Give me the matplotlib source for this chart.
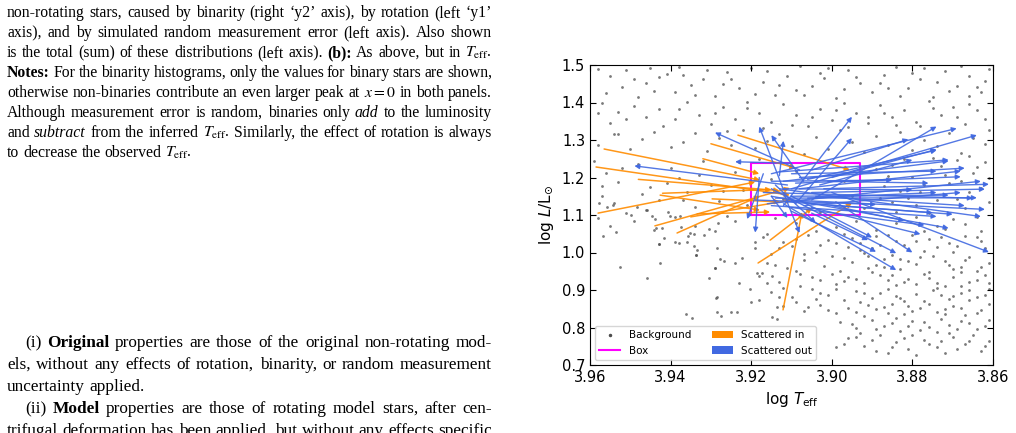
import matplotlib
matplotlib.use('Agg')
import matplotlib.pyplot as plt
from matplotlib.lines import Line2D
from matplotlib.patches import Patch

# ---------------- data (log Teff, log L) ----------------
bg_upper = [
    (3.958,1.490),(3.955,1.470),(3.951,1.488),(3.946,1.452),(3.944,1.431),(3.941,1.476),(3.938,1.495),
    (3.935,1.447),(3.932,1.462),(3.929,1.418),(3.926,1.481),(3.923,1.439),(3.920,1.492),(3.917,1.456),
    (3.914,1.421),(3.911,1.470),(3.908,1.497),(3.905,1.443),(3.902,1.465),(3.899,1.412),(3.896,1.487),
    (3.893,1.451),(3.890,1.429),(3.887,1.474),(3.884,1.495),(3.881,1.438),(3.878,1.462),(3.875,1.414),
    (3.872,1.483),(3.869,1.445),(3.866,1.472),(3.863,1.428),(3.861,1.490),
    (3.956,1.425),(3.952,1.441),(3.948,1.415),(3.943,1.468),(3.939,1.428),(3.934,1.419),(3.931,1.487),
    (3.927,1.449),(3.919,1.423),(3.913,1.447),(3.907,1.421),(3.901,1.493),(3.897,1.437),(3.888,1.452),
    (3.883,1.417),(3.877,1.491),(3.871,1.431),(3.866,1.418),(3.862,1.457),
    (3.949,1.462),(3.945,1.492),(3.937,1.473),(3.925,1.462),(3.916,1.484),(3.909,1.433),(3.903,1.478),
    (3.894,1.468),(3.886,1.438),(3.880,1.478),(3.874,1.454),(3.868,1.497),(3.864,1.441),
    (3.957,1.398),(3.953,1.376),(3.949,1.392),(3.946,1.361),(3.943,1.383),(3.939,1.355),(3.936,1.401),
    (3.933,1.368),(3.930,1.342),(3.927,1.389),(3.924,1.357),(3.921,1.402),(3.918,1.373),(3.915,1.347),
    (3.912,1.395),(3.909,1.366),(3.906,1.338),(3.903,1.384),(3.900,1.352),(3.897,1.399),(3.894,1.371),
    (3.891,1.346),(3.888,1.393),(3.885,1.362),(3.882,1.381),(3.879,1.349),(3.876,1.404),(3.873,1.367),
    (3.870,1.388),(3.867,1.343),(3.864,1.379),(3.862,1.356),
    (3.955,1.345),(3.942,1.337),(3.929,1.371),(3.917,1.331),(3.905,1.362),(3.896,1.334),(3.887,1.371),
    (3.878,1.336),(3.869,1.362),(3.958,1.371),(3.953,1.315),
    (3.951,1.356),(3.938,1.382),(3.926,1.323),(3.921,1.385),(3.910,1.341),(3.899,1.381),(3.891,1.362),
    (3.884,1.339),(3.875,1.385),(3.866,1.395),(3.861,1.327),
    (3.958,1.288),(3.954,1.315),(3.950,1.275),(3.947,1.302),(3.944,1.322),(3.940,1.281),(3.937,1.296),
    (3.934,1.318),(3.931,1.270),(3.928,1.305),(3.925,1.288),(3.922,1.326),(3.919,1.279),(3.916,1.298),
    (3.913,1.316),(3.910,1.285),(3.907,1.262),(3.904,1.309),(3.901,1.277),(3.898,1.326),(3.895,1.294),
    (3.892,1.268),(3.889,1.312),(3.886,1.287),(3.883,1.321),(3.880,1.273),(3.877,1.300),(3.874,1.283),
    (3.871,1.318),(3.868,1.266),(3.865,1.305),(3.862,1.289),
]
bg_middle = [
    (3.959,1.245),(3.956,1.212),(3.953,1.188),(3.957,1.152),(3.954,1.131),(3.951,1.105),(3.948,1.235),
    (3.945,1.176),(3.943,1.141),(3.946,1.112),(3.940,1.225),(3.938,1.199),(3.936,1.162),(3.934,1.120),
    (3.932,1.243),(3.930,1.181),(3.928,1.137),(3.926,1.098),(3.924,1.215),(3.922,1.168),(3.921,1.128),
    (3.918,1.250),(3.915,1.195),(3.912,1.142),(3.909,1.218),(3.906,1.172),(3.903,1.109),(3.900,1.238),
    (3.897,1.190),(3.895,1.150),(3.892,1.118),(3.889,1.222),(3.887,1.178),(3.885,1.136),(3.882,1.249),
    (3.880,1.201),(3.878,1.162),(3.876,1.104),(3.873,1.231),(3.871,1.186),(3.869,1.143),(3.867,1.118),
    (3.865,1.213),(3.863,1.172),(3.861,1.135),(3.862,1.241),(3.866,1.257),(3.870,1.088),(3.874,1.072),
    (3.879,1.094),(3.884,1.078),(3.889,1.061),(3.894,1.085),(3.899,1.069),(3.904,1.058),(3.909,1.079),
    (3.914,1.091),(3.919,1.066),(3.924,1.083),(3.929,1.057),(3.934,1.072),(3.939,1.094),(3.944,1.061),
    (3.949,1.083),(3.955,1.071),(3.958,1.093),
    (3.886,1.205),(3.883,1.163),(3.879,1.128),(3.875,1.252),(3.872,1.207),(3.868,1.192),(3.864,1.095),
    (3.861,1.198),(3.877,1.181),(3.884,1.108),(3.888,1.146),(3.891,1.232),(3.874,1.139),(3.866,1.162),
    (3.957,1.178),(3.952,1.225),(3.947,1.156),(3.941,1.186),(3.937,1.141),(3.933,1.207),(3.927,1.163),
    (3.923,1.241),(3.872,1.064),(3.867,1.075),(3.863,1.058),(3.877,1.057),(3.881,1.145),(3.864,1.228),
    (3.885,1.233),(3.869,1.247),
]
bg_lower_left = [
    (3.9577,1.131),(3.9559,1.120),(3.9544,1.128),(3.9567,1.044),(3.9535,1.054),(3.9526,0.962),
    (3.9499,1.101),(3.9484,1.120),(3.9459,1.112),(3.9458,0.933),(3.9447,1.096),(3.9439,1.089),
    (3.9436,1.066),(3.9429,1.024),(3.9426,0.971),(3.9422,1.065),(3.9416,1.038),(3.9406,1.109),
    (3.9401,1.097),(3.9388,1.029),(3.9378,1.026),(3.9373,1.069),(3.9377,1.097),(3.9360,1.027),
    (3.9358,1.044),(3.9352,1.051),(3.9343,1.049),(3.9342,1.017),(3.9335,1.008),(3.9337,0.993),
    (3.9317,1.048),(3.9305,1.064),(3.9305,0.933),(3.9287,0.880),(3.9291,0.960),(3.9284,1.011),
    (3.9277,0.982),(3.9268,0.978),(3.9282,1.080),
    (3.9362,0.836),(3.9346,0.825),(3.9286,0.881),(3.9284,0.842),(3.9275,0.832),(3.9251,0.842),
    (3.9235,0.842),(3.9230,0.918),(3.9203,0.903),(3.9201,0.867),(3.9180,0.873),(3.9186,0.945),
    (3.9174,0.945),(3.9160,0.918),(3.9148,0.827),(3.9135,0.823),(3.9137,0.856),(3.9148,0.937),
    (3.9240,0.973),(3.9224,0.985),(3.9290,0.958),(3.9338,0.993),(3.9430,1.023),
]
bg_lower_right = [
    (3.917,1.041),(3.912,1.028),(3.906,1.046),(3.901,1.033),(3.897,1.049),(3.893,1.026),(3.889,1.044),
    (3.884,1.031),(3.880,1.048),(3.876,1.036),(3.871,1.025),(3.867,1.043),(3.863,1.030),
    (3.919,1.027),(3.916,1.049),(3.913,1.011),(3.909,1.037),(3.907,0.996),(3.903,1.019),(3.914,0.967),
    (3.909,0.951),(3.905,0.936),(3.912,0.905),(3.908,0.912),(3.904,0.876),(3.909,0.868),(3.913,0.881),
    (3.919,1.012),(3.915,0.995),(3.910,1.018),(3.904,1.002),(3.900,0.991),(3.896,1.015),(3.892,0.998),
    (3.888,1.021),(3.885,0.993),(3.881,1.009),(3.878,0.987),(3.874,1.016),(3.870,1.001),(3.866,0.989),
    (3.862,1.013),(3.893,1.006),(3.877,1.004),
    (3.899,1.025),(3.895,1.038),(3.890,1.012),(3.886,1.047),(3.882,1.019),(3.879,1.032),(3.873,1.042),
    (3.869,1.018),(3.864,1.041),(3.897,0.985),(3.891,0.992),(3.887,0.961),(3.883,0.984),(3.875,0.992),
    (3.871,0.968),(3.867,0.979),(3.863,0.962),
    (3.916,0.972),(3.911,0.958),(3.907,0.979),(3.902,0.963),(3.898,0.951),(3.895,0.975),(3.891,0.960),
    (3.887,0.982),(3.883,0.955),(3.879,0.969),(3.876,0.947),(3.872,0.978),(3.868,0.962),(3.864,0.951),
    (3.861,0.973),(3.889,0.968),(3.881,0.977),(3.870,0.955),
    (3.918,0.938),(3.913,0.921),(3.908,0.943),(3.903,0.927),(3.899,0.915),(3.896,0.936),(3.892,0.919),
    (3.888,0.941),(3.884,0.913),(3.881,0.930),(3.877,0.944),(3.874,0.918),(3.870,0.935),(3.866,0.922),
    (3.862,0.940),(3.886,0.926),(3.879,0.917),(3.868,0.911),(3.894,0.929),
    (3.900,0.943),(3.897,0.925),(3.890,0.948),(3.885,0.939),(3.882,0.921),(3.876,0.931),(3.872,0.912),
    (3.868,0.947),(3.864,0.928),(3.861,0.918),
    (3.915,0.894),(3.910,0.881),(3.905,0.902),(3.901,0.886),(3.897,0.874),(3.894,0.897),(3.890,0.880),
    (3.886,0.903),(3.882,0.871),(3.879,0.889),(3.875,0.899),(3.871,0.877),(3.868,0.893),(3.864,0.881),
    (3.861,0.902),(3.884,0.885),(3.873,0.888),(3.892,0.892),(3.866,0.874),
    (3.903,0.892),(3.899,0.903),(3.893,0.869),(3.888,0.893),(3.883,0.879),(3.877,0.872),(3.874,0.906),
    (3.870,0.884),(3.866,0.899),(3.862,0.886),
    (3.912,0.857),(3.907,0.843),(3.903,0.861),(3.899,0.838),(3.896,0.853),(3.892,0.832),(3.889,0.849),
    (3.885,0.862),(3.882,0.836),(3.878,0.852),(3.874,0.841),(3.870,0.858),(3.867,0.833),(3.863,0.847),
    (3.861,0.862),(3.880,0.845),(3.887,0.855),(3.872,0.849),
    (3.906,0.855),(3.901,0.847),(3.894,0.842),(3.891,0.859),(3.886,0.838),(3.881,0.857),(3.876,0.863),
    (3.872,0.836),(3.868,0.851),(3.864,0.839),
    (3.898,0.815),(3.894,0.798),(3.890,0.821),(3.887,0.805),(3.883,0.792),(3.880,0.818),(3.876,0.801),
    (3.873,0.823),(3.869,0.795),(3.866,0.811),(3.862,0.803),(3.885,0.812),(3.871,0.808),(3.878,0.794),
    (3.895,0.809),(3.889,0.796),(3.884,0.825),(3.881,0.803),(3.877,0.814),(3.874,0.789),(3.868,0.817),
    (3.864,0.796),(3.861,0.821),
    (3.896,0.771),(3.892,0.752),(3.888,0.779),(3.884,0.761),(3.881,0.742),(3.877,0.768),(3.874,0.749),
    (3.870,0.775),(3.867,0.756),(3.863,0.738),(3.861,0.764),(3.886,0.733),(3.879,0.726),(3.872,0.731),
    (3.865,0.779),(3.893,0.785),(3.899,0.748),
    (3.897,0.757),(3.890,0.766),(3.885,0.747),(3.882,0.772),(3.876,0.756),(3.873,0.765),(3.869,0.742),
    (3.866,0.763),(3.862,0.751),(3.889,0.738),(3.880,0.781),(3.871,0.786),(3.894,0.776),
]

box_teff = (3.920, 3.893)
box_logl = (1.10, 1.24)

# (logTeff start, logL start, logTeff end, logL end)
scattered_in = [
    (3.9585,1.228,3.9104,1.153),(3.9565,1.276,3.9178,1.193),(3.9580,1.105,3.9190,1.188),
    (3.9439,1.071,3.9104,1.172),(3.9384,1.052,3.9178,1.151),(3.9334,1.103,3.9153,1.108),
    (3.9426,1.153,3.9178,1.113),(3.9297,1.143,3.9129,1.135),(3.9320,1.250,3.9180,1.210),
    (3.9233,1.313,3.8955,1.220),(3.9153,1.033,3.9049,1.119),(3.9183,0.972,3.8950,1.132),
    (3.9121,0.847,3.9074,1.108),(3.9420,1.158,3.9150,1.168),(3.9300,1.290,3.9090,1.225),
    (3.9480,1.195,3.9130,1.165),(3.9350,1.095,3.9100,1.140),
]
scattered_out = [
    (3.911,1.180,3.949,1.231),(3.908,1.220,3.929,1.320),(3.910,1.238,3.924,1.242),(3.912,1.167,3.918,1.336),
    (3.907,1.190,3.915,1.313),(3.917,1.210,3.921,1.089),(3.918,1.200,3.919,1.053),(3.915,1.150,3.911,1.092),
    (3.912,1.160,3.908,1.052),(3.914,1.180,3.904,1.079),(3.912,1.125,3.895,1.362),(3.909,1.130,3.895,1.305),
    (3.905,1.140,3.874,1.336),(3.915,1.210,3.869,1.331),(3.910,1.170,3.864,1.313),(3.905,1.220,3.881,1.302),
    (3.900,1.200,3.874,1.275),(3.912,1.190,3.871,1.244),(3.908,1.170,3.868,1.217),(3.910,1.210,3.874,1.217),
    (3.915,1.190,3.885,1.193),(3.905,1.160,3.862,1.169),(3.910,1.150,3.871,1.153),(3.917,1.160,3.865,1.145),
    (3.912,1.170,3.880,1.167),(3.910,1.140,3.862,1.115),(3.913,1.170,3.863,1.096),(3.905,1.130,3.875,1.106),
    (3.915,1.125,3.874,1.096),(3.910,1.120,3.877,1.073),(3.915,1.150,3.871,1.065),(3.905,1.120,3.878,1.049),
    (3.910,1.150,3.890,1.040),(3.915,1.170,3.884,0.998),(3.900,1.160,3.861,1.001),(3.912,1.130,3.884,0.953),
    (3.910,1.110,3.889,1.002),(3.905,1.105,3.891,1.033),(3.914,1.145,3.864,1.146),(3.908,1.200,3.867,1.225),
    (3.913,1.215,3.871,1.247),(3.906,1.195,3.874,1.273),(3.903,1.180,3.880,1.247),(3.916,1.130,3.863,1.190),
    (3.899,1.135,3.880,1.000),(3.902,1.170,3.861,1.182),(3.909,1.185,3.868,1.202),(3.904,1.150,3.867,1.125),
    (3.911,1.135,3.870,1.102),(3.907,1.125,3.868,1.160),(3.913,1.205,3.912,1.298),(3.900,1.125,3.882,1.085),
    (3.906,1.145,3.874,1.160),(3.901,1.190,3.876,1.185),(3.919,1.140,3.889,1.128),
]

xticks = [3.96, 3.94, 3.92, 3.90, 3.88, 3.86]
yticks = [0.7, 0.8, 0.9, 1.0, 1.1, 1.2, 1.3, 1.4, 1.5]

caption_lines = [
    "non-rotating stars, caused by binarity (right ‘y2’ axis), by rotation (left ‘y1’",
    "axis), and by simulated random measurement error (left axis). Also shown",
    "is the total (sum) of these distributions (left axis). **(b):** As above, but in $T_\\mathrm{eff}$.",
    "**Notes:** For the binarity histograms, only the values for binary stars are shown,",
    "otherwise non-binaries contribute an even larger peak at $x=0$ in both panels.",
    "Although measurement error is random, binaries only _add_ to the luminosity",
    "and _subtract_ from the inferred $T_\\mathrm{eff}$. Similarly, the effect of rotation is always",
    "to decrease the observed $T_\\mathrm{eff}$.",
]
body_lines = [
    "(i) **Original** properties are those of the original non-rotating mod-",
    "els, without any effects of rotation, binarity, or random measurement",
    "uncertainty applied.",
    "(ii) **Model** properties are those of rotating model stars, after cen-",
    "trifugal deformation has been applied, but without any effects specific",
]

# ---------------- figure ----------------
W, H = 1016, 433
fig = plt.figure(figsize=(W / 100, H / 100), dpi=100)
renderer = fig.canvas.get_renderer()


def parse(line):
    toks = []
    for w in line.split(' '):
        if not w:
            continue
        if w.startswith('**') and w.endswith('**'):
            toks.append((w[2:-2], 'bold'))
        elif w.startswith('_') and w.endswith('_') and len(w) > 2:
            toks.append((w[1:-1], 'italic'))
        else:
            toks.append((w, 'normal'))
    return toks


def draw_line(line, x0, x1, base_px, size, justify):
    toks = parse(line)
    texts = []
    for s, st in toks:
        kw = dict(fontsize=size, family='Liberation Serif', math_fontfamily='stix',
                  va='baseline', ha='left', color='black')
        if st == 'bold':
            kw['weight'] = 'bold'
        elif st == 'italic':
            kw['style'] = 'italic'
        texts.append(fig.text(0, 1 - base_px / H, s, **kw))
    widths = [t.get_window_extent(renderer).width for t in texts]
    if justify and len(texts) > 1:
        gap = (x1 - x0 - sum(widths)) / (len(texts) - 1)
    else:
        gap = size * 100 / 72 * 0.25
    x = x0
    for t, w in zip(texts, widths):
        t.set_x(x / W)
        x += w + gap


cap_size = 11.3
for i, ln in enumerate(caption_lines):
    draw_line(ln, 7, 492, 17 + 20 * i, cap_size, i < len(caption_lines) - 1)

body_size = 12.4
body_base = [347, 369, 391, 413, 435]
body_x0 = [25, 7, 7, 25, 7]
body_just = [True, True, False, True, True]
for ln, b, x0, j in zip(body_lines, body_base, body_x0, body_just):
    draw_line(ln, x0, 492, b, body_size, j)

# ---------------- chart ----------------
ax = fig.add_axes([590 / W, 68 / H, 403 / W, 300 / H])
bg = bg_upper + bg_middle + bg_lower_left + bg_lower_right
ax.scatter([p[0] for p in bg], [p[1] for p in bg], s=4, color='0.3', alpha=0.75,
           linewidths=0, zorder=1)

bx = [box_teff[0], box_teff[1], box_teff[1], box_teff[0], box_teff[0]]
by = [box_logl[0], box_logl[0], box_logl[1], box_logl[1], box_logl[0]]
ax.plot(bx, by, color='magenta', lw=1.5, zorder=2)

for x0, y0, x1, y1 in scattered_in:
    ax.annotate('', xy=(x1, y1), xytext=(x0, y0), zorder=3,
                arrowprops=dict(arrowstyle='-|>', color='darkorange', lw=1.1,
                                shrinkA=0, shrinkB=0, mutation_scale=7, alpha=0.9))
for x0, y0, x1, y1 in scattered_out:
    ax.annotate('', xy=(x1, y1), xytext=(x0, y0), zorder=4,
                arrowprops=dict(arrowstyle='-|>', color='royalblue', lw=1.0,
                                shrinkA=0, shrinkB=0, mutation_scale=7, alpha=0.9))

ax.set_xlim(xticks[0], xticks[-1])
ax.set_ylim(yticks[0], yticks[-1])
ax.set_xticks(xticks)
ax.set_yticks(yticks)
ax.set_xticklabels([f"{v:.2f}" for v in xticks])
ax.set_yticklabels([f"{v:.1f}" for v in yticks])
ax.tick_params(direction='in', top=True, right=True, labelsize=10.5, length=4)
ax.set_xlabel('log $T_{\\rm eff}$', fontsize=11, math_fontfamily='dejavusans')
ax.set_ylabel('log $L/\\mathrm{L}_{\\odot}$', fontsize=11, math_fontfamily='dejavusans')

handles = [
    Line2D([], [], marker='.', ls='', color='0.3', markersize=3, label='Background'),
    Line2D([], [], color='magenta', lw=1.5, label='Box'),
    Patch(facecolor='darkorange', label='Scattered in'),
    Patch(facecolor='royalblue', label='Scattered out'),
]
ax.legend(handles=handles, ncol=2, loc='lower left', fontsize=7.5)

fig.savefig('out.png', dpi=100)
